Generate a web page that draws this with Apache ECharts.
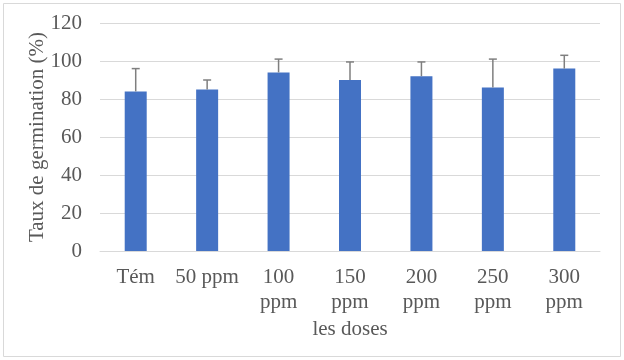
<!DOCTYPE html>
<html>
<head>
<meta charset="utf-8">
<script src="https://cdn.jsdelivr.net/npm/echarts@6/dist/echarts.min.js"></script>
<style>
  html, body { margin: 0; padding: 0; background: #ffffff; }
  #main { width: 624px; height: 360px; }
</style>
</head>
<body>
<div id="main"></div>
<script>
// doses and germination rates
const doses = ['Tém', '50 ppm', '100\nppm', '150\nppm', '200\nppm', '250\nppm', '300\nppm'];
const taux = [84, 85, 94, 90, 92, 86, 96];
const ecart = [12, 5, 7, 9.5, 7.5, 15, 7];
const yTicks = [0, 20, 40, 60, 80, 100, 120];

const font = '"Liberation Serif", "Times New Roman", serif';
const myChart = echarts.init(document.getElementById('main'));

let errData = [];
doses.forEach((d, i) => {
  errData.push([i, taux[i], taux[i] + ecart[i]]);
});

let option = {
  animation: false,
  textStyle: {fontFamily: font},
  graphic: [{
    type: 'rect',
    shape: {x: 3.5, y: 3.5, width: 617, height: 353},
    style: {fill: 'none', stroke: '#d9d9d9', lineWidth: 1}
  }],
  grid: {left: 100, right: 24, top: 23, bottom: 109},
  xAxis: {
    type: 'category',
    data: doses,
    name: 'les doses',
    nameLocation: 'middle',
    nameGap: 68,
    nameMoveOverlap: false,
    nameTextStyle: {fontSize: 21, color: '#595959', fontFamily: font},
    axisLine: {lineStyle: {color: '#d9d9d9'}},
    axisTick: {show: false},
    axisLabel: {fontSize: 21, color: '#595959', fontFamily: font, interval: 0, margin: 14, lineHeight: 25}
  },
  yAxis: {
    type: 'value',
    min: yTicks[0],
    max: yTicks[yTicks.length - 1],
    interval: 20,
    name: 'Taux de germination (%)',
    nameLocation: 'middle',
    nameGap: 52,
    nameMoveOverlap: false,
    nameTextStyle: {fontSize: 21, color: '#595959', fontFamily: font},
    axisLine: {show: false},
    axisTick: {show: false},
    axisLabel: {fontSize: 21, color: '#595959', fontFamily: font, margin: 18},
    splitLine: {lineStyle: {color: '#d9d9d9'}}
  },
  series: [{
    type: 'bar',
    data: taux,
    barWidth: 22,
    itemStyle: {color: '#4472c4'}
  }, {
    type: 'custom',
    data: errData,
    z: 5,
    renderItem: function (params, api) {
      let x = api.coord([api.value(0), api.value(1)])[0];
      let yLow = api.coord([api.value(0), api.value(1)])[1];
      let yHigh = api.coord([api.value(0), api.value(2)])[1];
      let st = {stroke: '#7f7f7f', lineWidth: 1.5};
      return {
        type: 'group',
        children: [
          {type: 'line', shape: {x1: x, y1: yLow, x2: x, y2: yHigh}, style: st},
          {type: 'line', shape: {x1: x - 4, y1: yHigh, x2: x + 4, y2: yHigh}, style: st}
        ]
      };
    }
  }]
};
myChart.setOption(option);
</script>
</body>
</html>
